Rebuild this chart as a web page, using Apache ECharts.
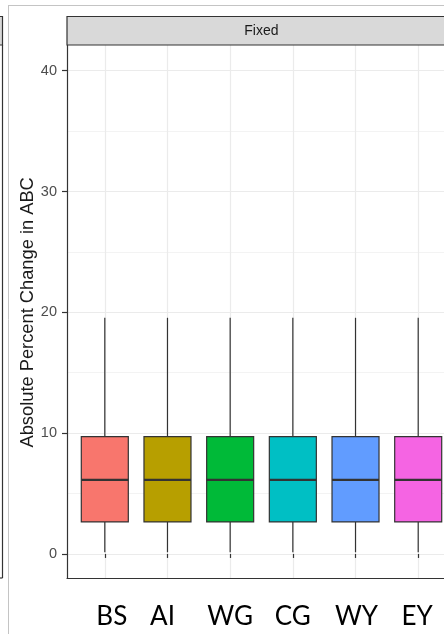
<!DOCTYPE html>
<html>
<head>
<meta charset="utf-8">
<script src="https://cdn.jsdelivr.net/npm/echarts@6/dist/echarts.min.js"></script>
<style>
  html, body { margin: 0; padding: 0; background: #ffffff; }
  #chart { width: 444px; height: 634px; }
</style>
</head>
<body>
<div id="chart"></div>
<script>
// Categories and five-number summaries for each box
const categories = ['BS', 'AI', 'WG', 'CG', 'WY', 'EY'];
const whiskerLow  = [0.14, 0.14, 0.14, 0.14, 0.14, 0.14];
const quartile1   = [2.65, 2.65, 2.65, 2.65, 2.65, 2.65];
const medians     = [6.13, 6.13, 6.13, 6.13, 6.13, 6.13];
const quartile3   = [9.72, 9.72, 9.72, 9.72, 9.72, 9.72];
const whiskerHigh = [19.55, 19.55, 19.55, 19.55, 19.55, 19.55];
const yTickValues = [0, 10, 20, 30, 40];
const panelTitle = 'Fixed';
const yTitle = 'Absolute Percent Change in ABC';

// Fill colours (ggplot default hue palette for six groups)
const boxFill = ['#F8766D', '#B79F00', '#00BA38', '#00BFC4', '#619CFF', '#F564E3'];
// Horizontal nudges (px) of the hand-placed category captions
const captionShift = [7, -5, 0, 0, 1, -1];

// Panel geometry (px) and y range of the panel
const panelLeft = 67, panelTop = 45, panelBottom = 578;
const firstCenter = 104.8, bandStep = 62.68;
const yLo = -1.99, yHi = 42.13;
const pxPerUnit = (panelBottom - panelTop) / (yHi - yLo);
const panelRight = firstCenter + (categories.length - 1 + 0.6) * bandStep;
const gridTickTop = panelTop + (yHi - yTickValues[yTickValues.length - 1]) * pxPerUnit;
const gridTickHeight = (yTickValues[yTickValues.length - 1] - yTickValues[0]) * pxPerUnit;

const ink = '#333333';
const gridMajor = '#ebebeb';
const gridMinor = '#f3f3f3';

const boxData = categories.map((c, i) =>
  [i, whiskerLow[i], quartile1[i], medians[i], quartile3[i], whiskerHigh[i]]);

// Category axis items; padding moves each caption sideways
const categoryItems = categories.map((c, i) => {
  const s = captionShift[i];
  return { value: c, textStyle: { padding: s >= 0 ? [0, 0, 0, 2 * s] : [0, -2 * s, 0, 0] } };
});

function renderBox(params, api) {
  const x = api.value(0);
  const lo = api.coord([x, api.value(1)]);
  const q1 = api.coord([x, api.value(2)]);
  const md = api.coord([x, api.value(3)]);
  const q3 = api.coord([x, api.value(4)]);
  const hi = api.coord([x, api.value(5)]);
  const half = api.size([1, 0])[0] * 0.75 / 2;
  const cx = lo[0];
  const lineStyle = { stroke: ink, lineWidth: 1.2 };
  return {
    type: 'group',
    children: [
      { type: 'line', shape: { x1: cx, y1: lo[1], x2: cx, y2: q1[1] }, style: lineStyle },
      { type: 'line', shape: { x1: cx, y1: q3[1], x2: cx, y2: hi[1] }, style: lineStyle },
      { type: 'rect', shape: { x: cx - half, y: q3[1], width: half * 2, height: q1[1] - q3[1] },
        style: { fill: boxFill[params.dataIndex], stroke: ink, lineWidth: 1.2 } },
      { type: 'line', shape: { x1: cx - half, y1: md[1], x2: cx + half, y2: md[1] },
        style: { stroke: ink, lineWidth: 2.4 } }
    ]
  };
}

const chart = echarts.init(document.getElementById('chart'), null, { renderer: 'canvas' });

chart.setOption({
  animation: false,
  backgroundColor: '#ffffff',
  grid: [
    // panel frame (left and bottom border)
    { left: panelLeft, top: panelTop, width: panelRight - panelLeft, height: panelBottom - panelTop },
    // horizontal grid lines and y tick labels
    { left: panelLeft, top: gridTickTop, width: panelRight - panelLeft, height: gridTickHeight },
    // boxes, vertical grid lines and category labels
    { left: firstCenter, top: panelTop, width: bandStep * (categories.length - 1), height: panelBottom - panelTop }
  ],
  xAxis: [
    { gridIndex: 0, type: 'value', min: 0, max: 1,
      axisLine: { show: true, lineStyle: { color: ink, width: 1.2 } },
      axisTick: { show: false }, axisLabel: { show: false }, splitLine: { show: false } },
    { gridIndex: 1, type: 'value', min: 0, max: 1, show: false },
    { gridIndex: 2, type: 'category', data: categoryItems, boundaryGap: false,
      axisLine: { show: false },
      axisTick: { show: true, length: 4, lineStyle: { color: ink, width: 1.2 } },
      splitLine: { show: true, lineStyle: { color: gridMajor, width: 1.2 } },
      axisLabel: { show: true, color: '#000000', fontSize: 26, fontFamily: 'Lato', margin: 26 } }
  ],
  yAxis: [
    { gridIndex: 0, type: 'value', min: 0, max: 1,
      axisLine: { show: true, lineStyle: { color: ink, width: 1.2 } },
      axisTick: { show: false }, axisLabel: { show: false }, splitLine: { show: false } },
    { gridIndex: 1, type: 'value', min: yTickValues[0], max: yTickValues[yTickValues.length - 1],
      interval: yTickValues[1] - yTickValues[0],
      axisLine: { show: false },
      axisTick: { show: true, length: 5, lineStyle: { color: ink, width: 1.2 } },
      axisLabel: { color: '#4d4d4d', fontSize: 14.5, fontFamily: 'Liberation Sans', margin: 10 },
      splitLine: { show: true, lineStyle: { color: gridMajor, width: 1.2 } },
      minorTick: { show: false, splitNumber: 2 },
      minorSplitLine: { show: true, lineStyle: { color: gridMinor, width: 1 } },
      name: yTitle, nameLocation: 'middle', nameGap: 30, nameRotate: 90, nameMoveOverlap: false,
      nameTextStyle: { color: '#1a1a1a', fontSize: 18.3, fontFamily: 'Liberation Sans' } },
    { gridIndex: 2, type: 'value', min: yLo, max: yHi, show: false }
  ],
  series: [
    { type: 'custom', xAxisIndex: 2, yAxisIndex: 2, renderItem: renderBox,
      encode: { x: 0, y: [1, 2, 3, 4, 5] }, data: boxData, z: 5 }
  ],
  graphic: [
    // outer page edges
    { type: 'line', shape: { x1: 8.5, y1: 5, x2: 8.5, y2: 634 }, style: { stroke: '#c4c4c4', lineWidth: 1 }, silent: true },
    { type: 'line', shape: { x1: 8, y1: 5.5, x2: 444, y2: 5.5 }, style: { stroke: '#c4c4c4', lineWidth: 1 }, silent: true },
    // edge of the neighbouring panel
    { type: 'rect', shape: { x: -2, y: 16.5, width: 4.5, height: 28.5 }, style: { fill: '#d9d9d9', stroke: ink, lineWidth: 1.2 }, silent: true },
    { type: 'line', shape: { x1: 2.5, y1: 45, x2: 2.5, y2: panelBottom }, style: { stroke: ink, lineWidth: 1.2 }, silent: true },
    { type: 'line', shape: { x1: 0, y1: panelBottom, x2: 2.5, y2: panelBottom }, style: { stroke: ink, lineWidth: 1.2 }, silent: true },
    // facet strip
    { type: 'rect', shape: { x: panelLeft, y: 16.5, width: panelRight - panelLeft + 10, height: panelTop - 16.5 },
      style: { fill: '#d9d9d9', stroke: ink, lineWidth: 1.2 }, silent: true, z: 10 },
    { type: 'text', x: (panelLeft + panelRight) / 2, y: (16.5 + panelTop) / 2,
      style: { text: panelTitle, fill: '#1a1a1a', fontSize: 14, fontFamily: 'Liberation Sans',
               align: 'center', verticalAlign: 'middle' }, silent: true, z: 11 }
  ]
});
</script>
</body>
</html>
